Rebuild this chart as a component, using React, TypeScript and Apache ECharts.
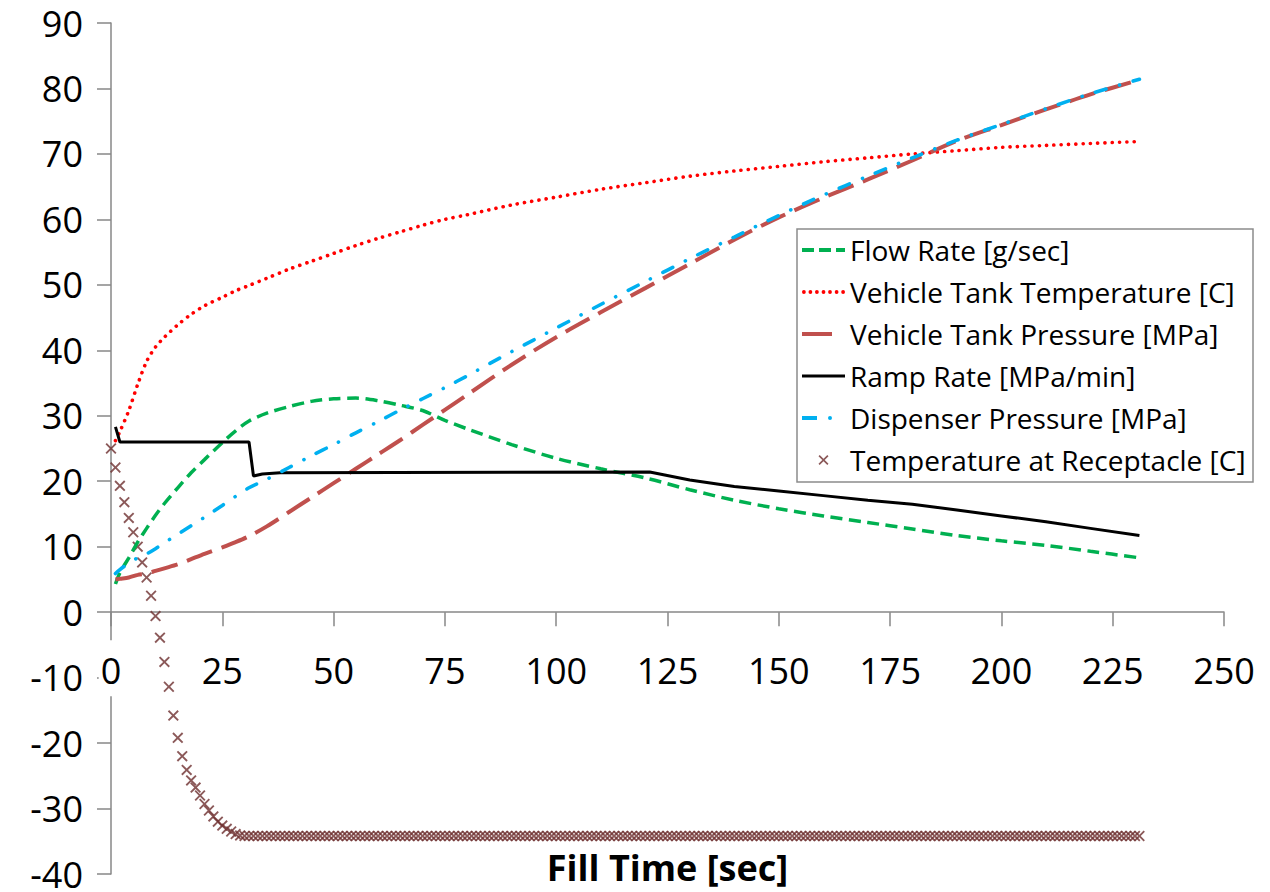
import React, { useEffect, useRef } from "react";
import * as echarts from "echarts";

// Fill time [sec] sample points for the continuous curves
const fillTime = [1, 2, 4, 6, 8, 10, 12, 15, 18, 21, 25, 28, 31, 35, 40, 45, 50, 55, 60, 65, 70, 75, 80, 90, 100, 110, 120, 130, 140, 150, 160, 170, 180, 190, 200, 210, 220, 231];

const flowRate = [4.3, 6.0, 8.3, 10.7, 12.8, 14.8, 16.6, 19.0, 21.3, 23.3, 25.9, 27.7, 29.2, 30.4, 31.4, 32.2, 32.6, 32.7, 32.3, 31.6, 30.8, 29.3, 28.0, 25.6, 23.5, 21.9, 20.5, 18.7, 17.1, 15.8, 14.7, 13.7, 12.7, 11.7, 10.9, 10.2, 9.3, 8.3];

const tankTemp = [26.2, 27.6, 30.8, 34.8, 38.3, 40.5, 42.0, 43.9, 45.5, 46.8, 48.1, 49.1, 49.9, 51.0, 52.4, 53.6, 54.8, 56.0, 57.1, 58.1, 59.1, 60.0, 60.7, 62.2, 63.4, 64.6, 65.6, 66.6, 67.4, 68.1, 68.8, 69.4, 70.0, 70.5, 71.0, 71.3, 71.6, 71.9];

const tankPressure = [5.0, 5.1, 5.3, 5.7, 5.9, 6.3, 6.7, 7.3, 8.1, 8.9, 9.9, 10.7, 11.6, 13.1, 15.3, 17.5, 19.7, 21.9, 24.1, 26.3, 28.6, 30.9, 33.2, 37.8, 42.0, 45.8, 49.5, 53.2, 56.9, 60.3, 63.3, 66.1, 69.0, 72.0, 74.4, 76.8, 79.1, 81.3];

const dispenserPressure = [5.9, 6.5, 7.5, 8.3, 8.9, 9.7, 10.6, 11.9, 13.2, 14.5, 16.3, 17.7, 19.0, 20.3, 22.1, 23.9, 25.6, 27.4, 29.1, 30.9, 32.6, 34.3, 36.1, 39.8, 43.4, 47.0, 50.5, 54.0, 57.3, 60.6, 63.7, 66.6, 69.4, 72.1, 74.5, 76.9, 79.2, 81.4];

// Ramp rate [MPa/min]
const rampTime = [1, 2, 31, 32, 34, 38, 121, 130, 140, 150, 160, 170, 180, 190, 200, 210, 220, 231];
const rampRate = [28.3, 26.0, 26.0, 20.8, 21.1, 21.3, 21.4, 20.2, 19.2, 18.5, 17.8, 17.1, 16.5, 15.6, 14.7, 13.8, 12.8, 11.7];

// Temperature at receptacle [C], one reading per second from t = 0 s to t = 231 s
const receptacleTemp = [
  25.0, 22.1, 19.3, 16.8, 14.4, 12.2, 10.0, 7.6, 5.3, 2.5,
  -0.6, -3.9, -7.6, -11.4, -15.8, -19.2, -22.0, -24.1, -25.7, -26.8,
  -28.0, -29.3, -30.3, -31.2, -32.0, -32.6, -33.1, -33.5, -33.9, -34.1,
  -34.2, -34.2, -34.2, -34.2, -34.2, -34.2, -34.2, -34.2, -34.2, -34.2,
  -34.2, -34.2, -34.2, -34.2, -34.2, -34.2, -34.2, -34.2, -34.2, -34.2,
  -34.2, -34.2, -34.2, -34.2, -34.2, -34.2, -34.2, -34.2, -34.2, -34.2,
  -34.2, -34.2, -34.2, -34.2, -34.2, -34.2, -34.2, -34.2, -34.2, -34.2,
  -34.2, -34.2, -34.2, -34.2, -34.2, -34.2, -34.2, -34.2, -34.2, -34.2,
  -34.2, -34.2, -34.2, -34.2, -34.2, -34.2, -34.2, -34.2, -34.2, -34.2,
  -34.2, -34.2, -34.2, -34.2, -34.2, -34.2, -34.2, -34.2, -34.2, -34.2,
  -34.2, -34.2, -34.2, -34.2, -34.2, -34.2, -34.2, -34.2, -34.2, -34.2,
  -34.2, -34.2, -34.2, -34.2, -34.2, -34.2, -34.2, -34.2, -34.2, -34.2,
  -34.2, -34.2, -34.2, -34.2, -34.2, -34.2, -34.2, -34.2, -34.2, -34.2,
  -34.2, -34.2, -34.2, -34.2, -34.2, -34.2, -34.2, -34.2, -34.2, -34.2,
  -34.2, -34.2, -34.2, -34.2, -34.2, -34.2, -34.2, -34.2, -34.2, -34.2,
  -34.2, -34.2, -34.2, -34.2, -34.2, -34.2, -34.2, -34.2, -34.2, -34.2,
  -34.2, -34.2, -34.2, -34.2, -34.2, -34.2, -34.2, -34.2, -34.2, -34.2,
  -34.2, -34.2, -34.2, -34.2, -34.2, -34.2, -34.2, -34.2, -34.2, -34.2,
  -34.2, -34.2, -34.2, -34.2, -34.2, -34.2, -34.2, -34.2, -34.2, -34.2,
  -34.2, -34.2, -34.2, -34.2, -34.2, -34.2, -34.2, -34.2, -34.2, -34.2,
  -34.2, -34.2, -34.2, -34.2, -34.2, -34.2, -34.2, -34.2, -34.2, -34.2,
  -34.2, -34.2, -34.2, -34.2, -34.2, -34.2, -34.2, -34.2, -34.2, -34.2,
  -34.2, -34.2, -34.2, -34.2, -34.2, -34.2, -34.2, -34.2, -34.2, -34.2,
  -34.2, -34.2
];

const seriesNames = [
  "Flow Rate [g/sec]",
  "Vehicle Tank Temperature [C]",
  "Vehicle Tank Pressure [MPa]",
  "Ramp Rate [MPa/min]",
  "Dispenser Pressure [MPa]",
  "Temperature at Receptacle [C]",
];

const xAxisTitle = "Fill Time [sec]";

const FONT = "'Open Sans', 'Noto Sans', sans-serif";
const AXIS_GRAY = "#878787";
const X_MARK = "path://M0,1.2L1.2,0L5,3.8L8.8,0L10,1.2L6.2,5L10,8.8L8.8,10L5,6.2L1.2,10L0,8.8L3.8,5Z";

const GRID_TOP = 23;
const GRID_BOTTOM_PX = 874;
const Y_MIN = -40;
const Y_MAX = 90;

function dotPath(cx: number, r: number, cy: number) {
  return `M${cx - r},${cy}a${r},${r} 0 1,0 ${2 * r},0a${r},${r} 0 1,0 ${-2 * r},0`;
}

export default function App() {
  const ref = useRef<HTMLDivElement>(null);

  useEffect(() => {
    if (!ref.current) return;
    const chart = echarts.init(ref.current, null, { renderer: "svg" });
    const pairs = (xs: number[], ys: number[]) => xs.map((x, i) => [x, ys[i]]);

    // distance from the grid's bottom edge up to the y = 0 line
    const zeroLift = ((0 - Y_MIN) / (Y_MAX - Y_MIN)) * (GRID_BOTTOM_PX - GRID_TOP);

    const redDots =
      "path://" +
      [1.9, 8.4, 14.9, 21.5, 28.0, 34.6, 41.1].map((c) => dotPath(c, 1.9, 2)).join("");
    const blueIcon = "path://M0,0h15v4h-15z" + dotPath(28, 2, 2) + "M42.9,1.9h0.1v0.2h-0.1z";

    chart.setOption({
      animation: false,
      backgroundColor: "#ffffff",
      grid: {
        left: 111,
        right: 46,
        top: GRID_TOP,
        bottom: 892 - GRID_BOTTOM_PX,
        containLabel: false,
        outerBoundsMode: "none",
      },
      xAxis: {
        type: "value",
        min: 0,
        max: 250,
        interval: 25,
        z: 1,
        position: "bottom",
        offset: -zeroLift,
        name: xAxisTitle,
        nameLocation: "middle",
        nameGap: 255,
        nameMoveOverlap: false,
        nameTextStyle: {
          fontFamily: FONT,
          fontSize: 36,
          fontWeight: "bold",
          color: "#000",
          verticalAlign: "middle",
          lineHeight: 36,
        },
        axisLine: { show: true, onZero: false, lineStyle: { color: AXIS_GRAY, width: 1.5 } },
        axisTick: { show: true, inside: false, length: 14, lineStyle: { color: AXIS_GRAY, width: 1.5 } },
        axisLabel: {
          fontFamily: FONT,
          fontSize: 36,
          color: "#000",
          margin: 28,
          backgroundColor: "#ffffff",
          padding: [12, 2, 8, 2],
        },
        splitLine: { show: false },
      },
      yAxis: {
        type: "value",
        min: Y_MIN,
        max: Y_MAX,
        interval: 10,
        axisLine: { show: true, onZero: false, lineStyle: { color: AXIS_GRAY, width: 1.5 } },
        axisTick: { show: true, inside: false, length: 14, lineStyle: { color: AXIS_GRAY, width: 1.5 } },
        axisLabel: { fontFamily: FONT, fontSize: 36, color: "#000", margin: 28, lineHeight: 32 },
        splitLine: { show: false },
      },
      legend: {
        orient: "vertical",
        left: 802,
        top: 235,
        padding: 0,
        itemWidth: 43,
        itemHeight: 10,
        itemGap: 12,
        symbolKeepAspect: true,
        selectedMode: false,
        itemStyle: { borderWidth: 0 },
        textStyle: { fontFamily: FONT, fontSize: 28, color: "#000", lineHeight: 30 },
        data: [
          { name: seriesNames[0], icon: "path://M0,0h12v4h-12zM17,0h12v4h-12zM34,0h9v4h-9z" },
          { name: seriesNames[1], icon: redDots },
          { name: seriesNames[2], icon: "path://M0,0h30v4h-30zM42.9,1.9h0.1v0.2h-0.1z" },
          { name: seriesNames[3], icon: "path://M0,0.4h43v3.2h-43z" },
          { name: seriesNames[4], icon: blueIcon },
          { name: seriesNames[5], icon: X_MARK },
        ],
      },
      graphic: [
        {
          type: "rect",
          z: 0,
          shape: { x: 797, y: 229, width: 456, height: 253 },
          style: { fill: "#ffffff", stroke: "#8c8c8c", lineWidth: 1.5 },
        },
      ],
      series: [
        {
          name: seriesNames[0],
          type: "line",
          data: pairs(fillTime, flowRate),
          color: "#00B050",
          showSymbol: false,
          symbol: "none",
          smooth: 0.3,
          lineStyle: { color: "#00B050", width: 3.5, type: [12, 6.5], cap: "butt" },
        },
        {
          name: seriesNames[1],
          type: "line",
          data: pairs(fillTime, tankTemp),
          color: "#FF0000",
          showSymbol: false,
          symbol: "none",
          smooth: 0.3,
          lineStyle: { color: "#FF0000", width: 3.6, type: [0.1, 7.2], cap: "round" },
        },
        {
          name: seriesNames[2],
          type: "line",
          data: pairs(fillTime, tankPressure),
          color: "#C0504D",
          showSymbol: false,
          symbol: "none",
          smooth: 0.3,
          lineStyle: { color: "#C0504D", width: 4, type: [27, 10], cap: "butt" },
        },
        {
          name: seriesNames[3],
          type: "line",
          data: pairs(rampTime, rampRate),
          color: "#000000",
          showSymbol: false,
          symbol: "none",
          lineStyle: { color: "#000000", width: 3 },
        },
        {
          name: seriesNames[4],
          type: "line",
          data: pairs(fillTime, dispenserPressure),
          color: "#00B0F0",
          showSymbol: false,
          symbol: "none",
          smooth: 0.3,
          lineStyle: { color: "#00B0F0", width: 3.6, type: [11, 14, 0.1, 14], cap: "round" },
        },
        {
          name: seriesNames[5],
          type: "scatter",
          data: receptacleTemp.map((v, i) => [i, v]),
          color: "#6E2F30",
          symbol: X_MARK,
          symbolSize: 11,
          itemStyle: { color: "#6E2F30" },
        },
      ],
    });

    return () => chart.dispose();
  }, []);

  return (
    <div
      ref={ref}
      style={{ position: "fixed", left: 0, top: 0, width: 1270, height: 892, background: "#fff" }}
    />
  );
}
